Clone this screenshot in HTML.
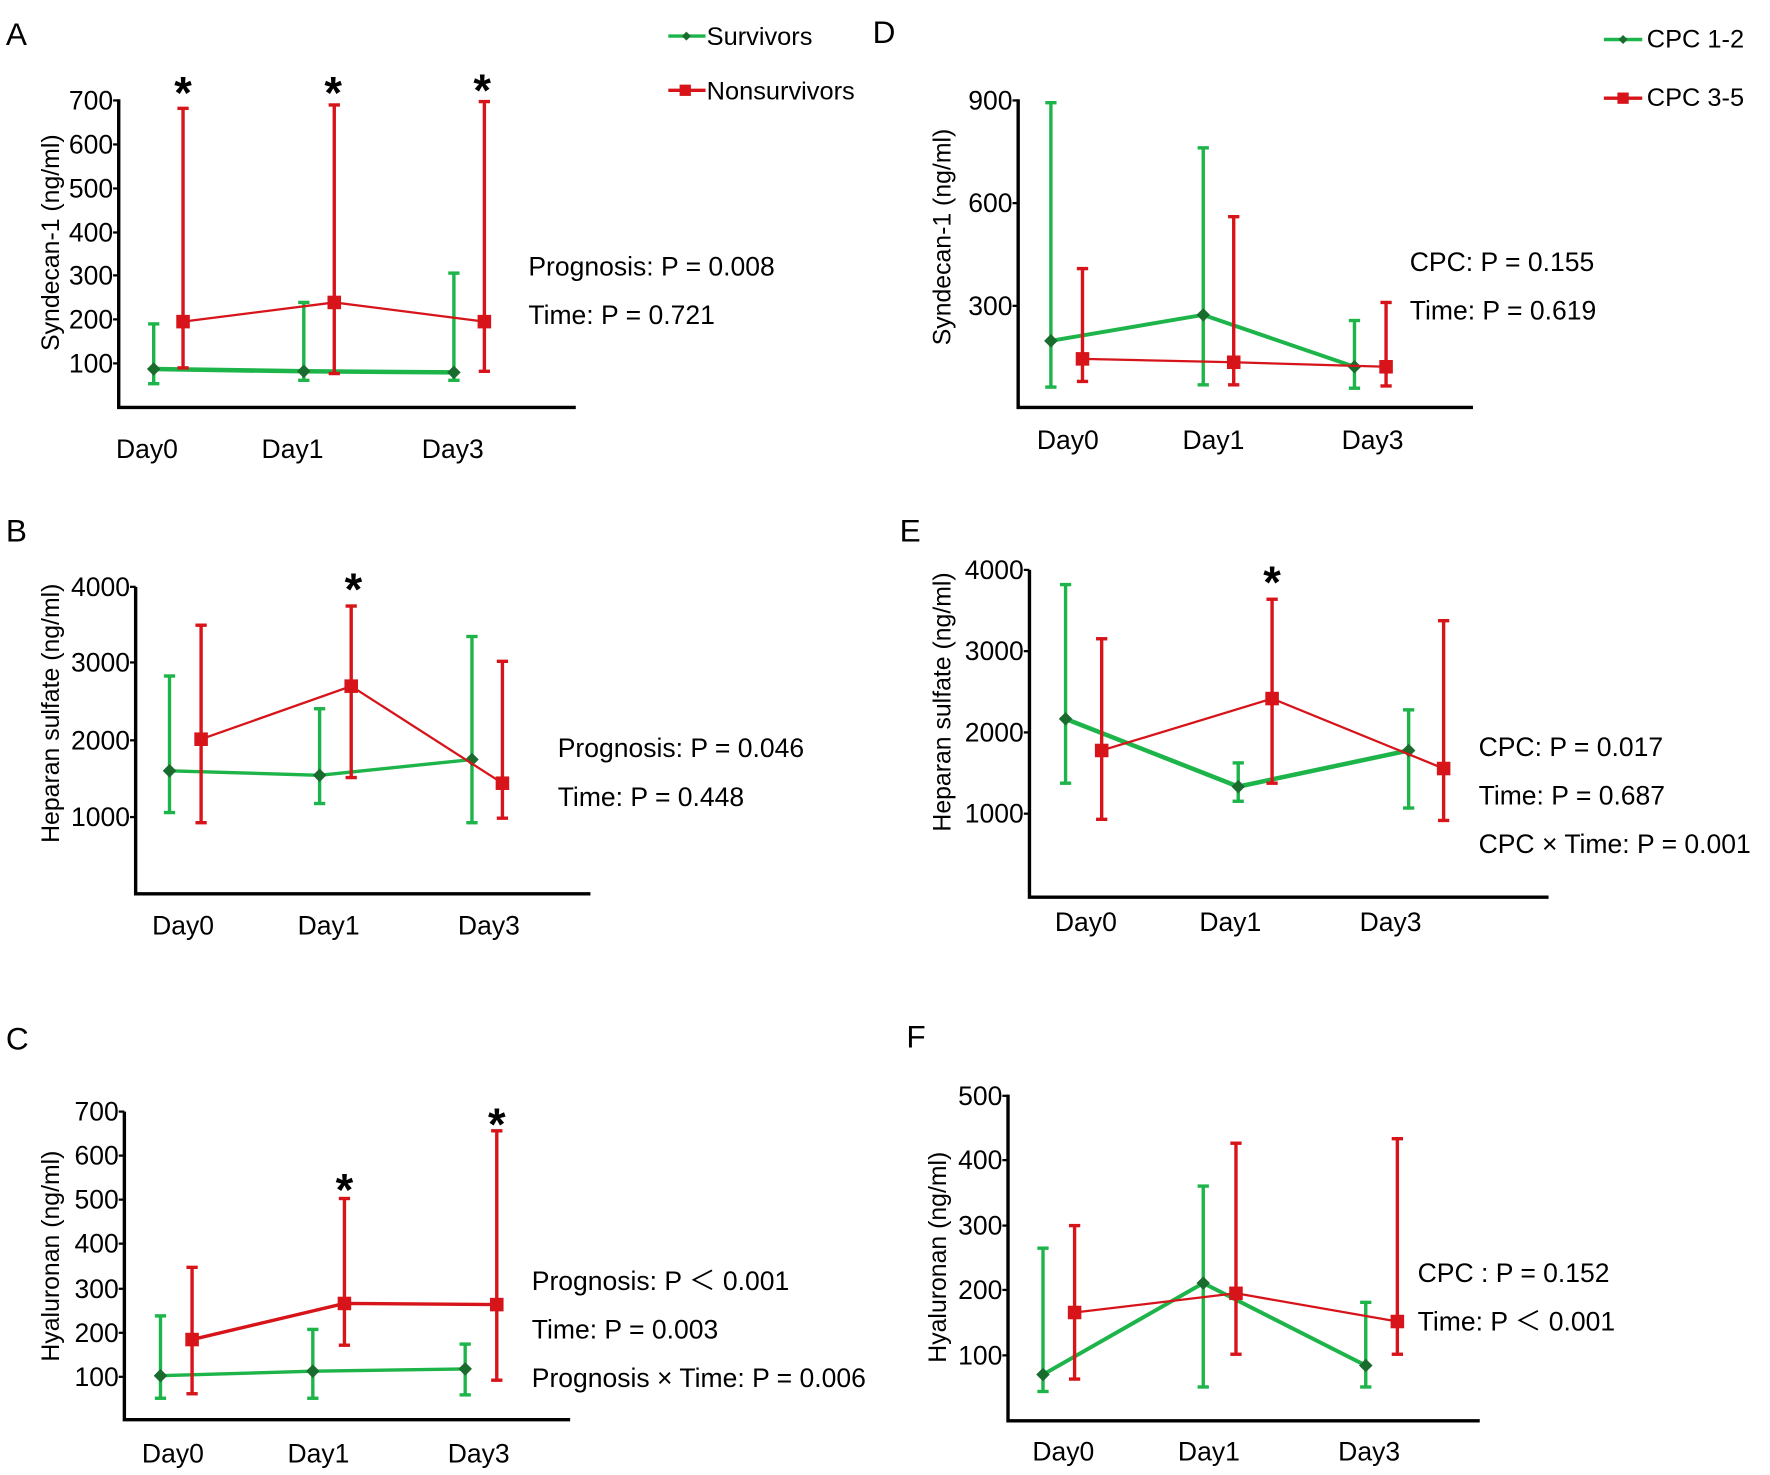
<!DOCTYPE html>
<html><head><meta charset="utf-8"><style>html,body{margin:0;padding:0;background:#fff}svg{display:block}text{font-family:"Liberation Sans",sans-serif;fill:#000}</style></head>
<body>
<svg id="s" width="1770" height="1475" viewBox="0 0 1568 1307" xmlns="http://www.w3.org/2000/svg">
<g font-size="23.5">
<text x="5" y="40" font-size="28">A</text>
<text x="5" y="480" font-size="28">B</text>
<text x="5" y="930" font-size="28">C</text>
<text x="773" y="38" font-size="28">D</text>
<text x="797" y="480" font-size="28">E</text>
<text x="803" y="928" font-size="28">F</text>

<line x1="592" y1="32" x2="625" y2="32" stroke="#1db44a" stroke-width="3"/><path d="M608 28l4 4-4 4-4-4z" fill="#1a6b2e"/>
<text x="626" y="40" font-size="22.5">Survivors</text>
<line x1="592" y1="80" x2="625" y2="80" stroke="#d7141a" stroke-width="3"/><rect x="602" y="75" width="10" height="10" fill="#d7141a"/>
<text x="626" y="88" font-size="22.5">Nonsurvivors</text>
<line x1="1421" y1="35" x2="1455" y2="35" stroke="#1db44a" stroke-width="3"/><path d="M1438 31l4 4-4 4-4-4z" fill="#1a6b2e"/>
<text x="1459" y="42" font-size="22.5">CPC 1-2</text>
<line x1="1421" y1="87" x2="1455" y2="87" stroke="#d7141a" stroke-width="3"/><rect x="1433" y="82" width="10" height="10" fill="#d7141a"/>
<text x="1459" y="94" font-size="22.5">CPC 3-5</text>

<text transform="translate(52,215) rotate(-90)" text-anchor="middle" font-size="22">Syndecan-1 (ng/ml)</text>
<text transform="translate(52,632) rotate(-90)" text-anchor="middle" font-size="22">Heparan sulfate (ng/ml)</text>
<text transform="translate(52,1113) rotate(-90)" text-anchor="middle" font-size="22">Hyaluronan (ng/ml)</text>
<text transform="translate(842,210) rotate(-90)" text-anchor="middle" font-size="22">Syndecan-1 (ng/ml)</text>
<text transform="translate(842,622) rotate(-90)" text-anchor="middle" font-size="22">Heparan sulfate (ng/ml)</text>
<text transform="translate(838,1114) rotate(-90)" text-anchor="middle" font-size="22">Hyaluronan (ng/ml)</text>

<g text-anchor="end">
<text x="100" y="97">700</text><text x="100" y="136">600</text><text x="100" y="175">500</text><text x="100" y="214">400</text><text x="100" y="252">300</text><text x="100" y="291">200</text><text x="100" y="330">100</text>
<text x="115" y="528">4000</text><text x="115" y="595">3000</text><text x="115" y="664">2000</text><text x="115" y="732">1000</text>
<text x="105" y="993">700</text><text x="105" y="1032">600</text><text x="105" y="1071">500</text><text x="105" y="1110">400</text><text x="105" y="1150">300</text><text x="105" y="1189">200</text><text x="105" y="1228">100</text>
<text x="897" y="97">900</text><text x="897" y="188">600</text><text x="897" y="279">300</text>
<text x="907" y="513">4000</text><text x="907" y="585">3000</text><text x="907" y="657">2000</text><text x="907" y="729">1000</text>
<text x="888" y="979">500</text><text x="888" y="1036">400</text><text x="888" y="1094">300</text><text x="888" y="1151">200</text><text x="888" y="1209">100</text>
</g>
<g text-anchor="middle">
<text x="130" y="406">Day0</text><text x="259" y="406">Day1</text><text x="401" y="406">Day3</text>
<text x="162" y="828">Day0</text><text x="291" y="828">Day1</text><text x="433" y="828">Day3</text>
<text x="153" y="1296">Day0</text><text x="282" y="1296">Day1</text><text x="424" y="1296">Day3</text>
<text x="946" y="398">Day0</text><text x="1075" y="398">Day1</text><text x="1216" y="398">Day3</text>
<text x="962" y="825">Day0</text><text x="1090" y="825">Day1</text><text x="1232" y="825">Day3</text>
<text x="942" y="1294">Day0</text><text x="1071" y="1294">Day1</text><text x="1213" y="1294">Day3</text>
</g>
<text x="468" y="244">Prognosis: P = 0.008</text><text x="468" y="287">Time: P = 0.721</text>
<text x="494" y="671">Prognosis: P = 0.046</text><text x="494" y="714">Time: P = 0.448</text>
<text x="471" y="1143">Prognosis: P ＜ 0.001</text><text x="471" y="1186">Time: P = 0.003</text><text x="471" y="1229">Prognosis × Time: P = 0.006</text>
<text x="1249" y="240">CPC: P = 0.155</text><text x="1249" y="283">Time: P = 0.619</text>
<text x="1310" y="670">CPC: P = 0.017</text><text x="1310" y="713">Time: P = 0.687</text><text x="1310" y="756">CPC × Time: P = 0.001</text>
<text x="1256" y="1136">CPC : P = 0.152</text><text x="1256" y="1179">Time: P ＜ 0.001</text>
<g font-size="40" font-weight="bold" text-anchor="middle">
<text x="162" y="96">*</text><text x="295" y="96">*</text><text x="427" y="94">*</text>
<text x="313" y="536">*</text>
<text x="305" y="1068">*</text><text x="440" y="1010">*</text>
<text x="1127" y="530">*</text>
</g>
</g>
<g id="plots"></g>
</svg>
<script>
var g=document.getElementById('plots'),NS='http://www.w3.org/2000/svg';
function el(t,a){var e=document.createElementNS(NS,t);for(var k in a)e.setAttribute(k,a[k]);g.appendChild(e);}
function axes(x,y0,y1,x1,ticks){el('polyline',{points:x+','+y0+' '+x+','+y1+' '+x1+','+y1,fill:'none',stroke:'#000','stroke-width':3});ticks.forEach(function(t){el('line',{x1:x-5,y1:t,x2:x,y2:t,stroke:'#000','stroke-width':2});});}
var G='#1db44a',R='#d7141a';
function series(xs,ps,es,c,lw,mk){
 for(var i=0;i<3;i++){el('line',{x1:xs[i],y1:es[i][0],x2:xs[i],y2:es[i][1],stroke:c,'stroke-width':3});
  [0,1].forEach(function(j){el('line',{x1:xs[i]-5,y1:es[i][j],x2:xs[i]+5,y2:es[i][j],stroke:c,'stroke-width':3});});}
 el('polyline',{points:xs.map(function(x,i){return x+','+ps[i]}).join(' '),fill:'none',stroke:c,'stroke-width':lw});
 for(var i=0;i<3;i++){if(mk=='d')el('path',{d:'M'+xs[i]+' '+(ps[i]-6)+'l6 6-6 6-6-6z',fill:'#1a6b2e'});else el('rect',{x:xs[i]-6,y:ps[i]-6,width:12,height:12,fill:R});}
}
axes(105,88,361,510,[89,128,167,206,244,283,322]);
series([136,269,402],[327,329,330],[[287,340],[268,337],[242,337]],G,4,'d');
series([162,296,429],[285,268,285],[[96,326],[93,331],[90,329]],R,2,'s');
axes(120,520,792,523,[520,587,656,724]);
series([150,283,418],[683,687,673],[[599,720],[628,712],[564,729]],G,3,'d');
series([178,311,445],[655,608,694],[[554,729],[537,689],[586,725]],R,2,'s');
axes(110,985,1258,505,[985,1024,1063,1102,1142,1181,1220]);
series([142,277,412],[1219,1215,1213],[[1166,1239],[1178,1239],[1191,1236]],G,3,'d');
series([170,305,440],[1187,1155,1156],[[1123,1235],[1062,1192],[1002,1223]],R,3,'s');
axes(902,88,361,1305,[89,180,271]);
series([931,1066,1200],[302,279,325],[[91,343],[131,341],[284,344]],G,3.5,'d');
series([959,1093,1228],[318,321,325],[[238,338],[192,341],[268,342]],R,2,'s');
axes(912,505,795,1372,[505,577,649,721]);
series([944,1097,1248],[637,697,665],[[518,694],[676,710],[629,716]],G,4,'d');
series([976,1127,1279],[665,619,681],[[566,726],[531,694],[550,727]],R,2,'s');
axes(893,970,1259,1311,[971,1028,1086,1143,1201]);
series([924,1066,1210],[1218,1137,1210],[[1106,1233],[1051,1229],[1154,1229]],G,3.5,'d');
series([952,1095,1238],[1163,1146,1171],[[1086,1222],[1013,1200],[1009,1200]],R,2,'s');
</script>
</body></html>
